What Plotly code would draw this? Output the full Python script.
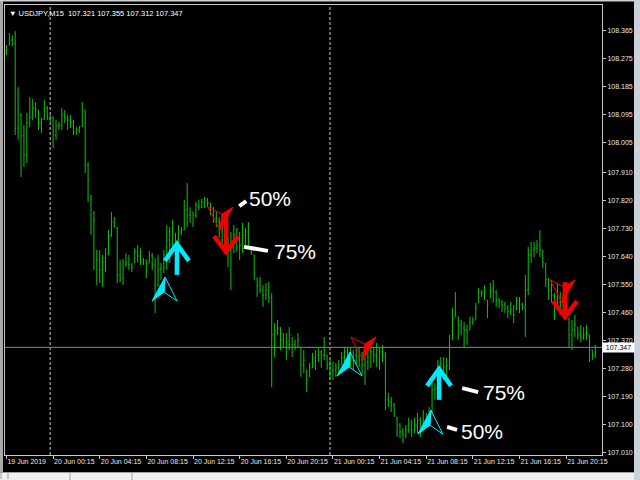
import pandas as pd
import plotly.graph_objects as go

# ---------------- data ----------------
symbol_text = "USDJPY,M15"
first_bar = "2019-06-19 20:15"

opens = [
    108.297, 108.319, 108.335, 108.323, 108.052, 108.094, 108.027, 107.966, 108.069, 108.088,
    108.117, 108.110, 108.069, 108.081, 108.117, 108.085, 108.088, 108.030, 108.059, 108.062,
    108.094, 108.085, 108.078, 108.072, 108.040, 108.046, 108.056, 108.110, 107.933, 107.831,
    107.779, 107.654, 107.628, 107.596, 107.621, 107.647, 107.708, 107.750, 107.731, 107.580,
    107.570, 107.621, 107.615, 107.612, 107.618, 107.654, 107.641, 107.621, 107.628, 107.618,
    107.641, 107.612, 107.547, 107.596, 107.602, 107.644, 107.692, 107.676, 107.708, 107.692,
    107.718, 107.724, 107.789, 107.772, 107.782, 107.772, 107.805, 107.798, 107.814, 107.821,
    107.811, 107.795, 107.763, 107.750, 107.724, 107.692, 107.676, 107.660, 107.676, 107.708,
    107.692, 107.676, 107.708, 107.718, 107.670, 107.644, 107.570, 107.547, 107.531, 107.515,
    107.531, 107.506, 107.387, 107.403, 107.409, 107.371, 107.364, 107.355, 107.387, 107.355,
    107.348, 107.348, 107.290, 107.274, 107.252, 107.281, 107.313, 107.322, 107.332, 107.322,
    107.322, 107.290, 107.268, 107.274, 107.281, 107.290, 107.313, 107.332, 107.326, 107.306,
    107.322, 107.319, 107.306, 107.290, 107.300, 107.338, 107.332, 107.322, 107.338, 107.332,
    107.322, 107.178, 107.171, 107.162, 107.123, 107.097, 107.075, 107.065, 107.081, 107.097,
    107.081, 107.097, 107.113, 107.097, 107.113, 107.120, 107.136, 107.210, 107.216, 107.274,
    107.290, 107.284, 107.290, 107.371, 107.445, 107.445, 107.419, 107.409, 107.403, 107.403,
    107.428, 107.435, 107.490, 107.525, 107.522, 107.499, 107.506, 107.531, 107.525, 107.499,
    107.493, 107.483, 107.473, 107.461, 107.467, 107.467, 107.499, 107.483, 107.477, 107.531,
    107.644, 107.660, 107.666, 107.676, 107.660, 107.618, 107.564, 107.531, 107.515, 107.499,
    107.493, 107.483, 107.490, 107.441, 107.387, 107.403, 107.412, 107.387, 107.377, 107.387,
    107.387, 107.338, 107.321,
]
highs = [
    108.319, 108.358, 108.351, 108.364, 108.184, 108.101, 108.062, 108.101, 108.152, 108.146,
    108.136, 108.110, 108.085, 108.142, 108.123, 108.094, 108.088, 108.078, 108.072, 108.117,
    108.110, 108.094, 108.094, 108.078, 108.056, 108.059, 108.136, 108.110, 107.943, 107.837,
    107.785, 107.660, 107.660, 107.644, 107.666, 107.724, 107.782, 107.766, 107.734, 107.628,
    107.631, 107.650, 107.644, 107.618, 107.666, 107.676, 107.666, 107.634, 107.628, 107.657,
    107.650, 107.634, 107.644, 107.618, 107.660, 107.740, 107.734, 107.757, 107.715, 107.740,
    107.734, 107.821, 107.875, 107.798, 107.782, 107.814, 107.821, 107.824, 107.831, 107.827,
    107.811, 107.798, 107.782, 107.766, 107.750, 107.731, 107.702, 107.718, 107.740, 107.731,
    107.718, 107.747, 107.731, 107.750, 107.670, 107.644, 107.570, 107.573, 107.547, 107.554,
    107.557, 107.522, 107.425, 107.435, 107.412, 107.393, 107.393, 107.412, 107.380, 107.371,
    107.393, 107.348, 107.338, 107.274, 107.297, 107.329, 107.338, 107.345, 107.338, 107.380,
    107.322, 107.306, 107.300, 107.297, 107.306, 107.332, 107.345, 107.348, 107.345, 107.338,
    107.345, 107.345, 107.332, 107.316, 107.355, 107.355, 107.348, 107.361, 107.348, 107.355,
    107.332, 107.200, 107.187, 107.168, 107.123, 107.104, 107.088, 107.097, 107.120, 107.113,
    107.120, 107.136, 107.123, 107.145, 107.136, 107.155, 107.242, 107.232, 107.306, 107.316,
    107.316, 107.313, 107.387, 107.473, 107.525, 107.445, 107.435, 107.428, 107.419, 107.445,
    107.445, 107.490, 107.538, 107.531, 107.547, 107.499, 107.554, 107.564, 107.531, 107.506,
    107.499, 107.493, 107.483, 107.493, 107.483, 107.509, 107.509, 107.490, 107.580, 107.670,
    107.686, 107.686, 107.692, 107.724, 107.660, 107.618, 107.570, 107.564, 107.522, 107.554,
    107.525, 107.506, 107.506, 107.441, 107.435, 107.451, 107.412, 107.419, 107.412, 107.419,
    107.387, 107.338, 107.355,
]
lows = [
    108.287, 108.319, 108.316, 108.030, 108.014, 107.895, 107.927, 107.940, 108.056, 108.078,
    108.085, 108.046, 108.036, 108.078, 108.078, 108.072, 107.988, 108.014, 108.046, 108.046,
    108.069, 108.046, 108.052, 108.030, 108.030, 108.036, 108.056, 107.908, 107.814, 107.708,
    107.596, 107.547, 107.554, 107.541, 107.589, 107.644, 107.702, 107.731, 107.554, 107.557,
    107.547, 107.605, 107.596, 107.589, 107.618, 107.621, 107.612, 107.612, 107.570, 107.618,
    107.596, 107.457, 107.541, 107.564, 107.586, 107.596, 107.618, 107.650, 107.628, 107.670,
    107.708, 107.724, 107.734, 107.747, 107.734, 107.763, 107.789, 107.795, 107.795, 107.798,
    107.772, 107.747, 107.734, 107.699, 107.676, 107.650, 107.605, 107.531, 107.650, 107.654,
    107.628, 107.650, 107.676, 107.670, 107.644, 107.564, 107.509, 107.522, 107.477, 107.499,
    107.490, 107.219, 107.316, 107.387, 107.338, 107.348, 107.306, 107.338, 107.316, 107.338,
    107.348, 107.252, 107.264, 107.203, 107.252, 107.281, 107.274, 107.300, 107.281, 107.306,
    107.274, 107.242, 107.242, 107.252, 107.264, 107.290, 107.297, 107.313, 107.281, 107.274,
    107.290, 107.284, 107.258, 107.226, 107.274, 107.281, 107.297, 107.284, 107.274, 107.300,
    107.145, 107.155, 107.139, 107.123, 107.059, 107.055, 107.039, 107.055, 107.071, 107.059,
    107.071, 107.071, 107.059, 107.081, 107.091, 107.091, 107.136, 107.178, 107.210, 107.252,
    107.242, 107.252, 107.274, 107.371, 107.445, 107.371, 107.387, 107.348, 107.355, 107.403,
    107.419, 107.435, 107.490, 107.509, 107.499, 107.441, 107.506, 107.490, 107.477, 107.473,
    107.461, 107.457, 107.441, 107.451, 107.425, 107.467, 107.457, 107.467, 107.380, 107.515,
    107.618, 107.637, 107.650, 107.637, 107.602, 107.541, 107.499, 107.490, 107.435, 107.467,
    107.461, 107.457, 107.445, 107.345, 107.338, 107.380, 107.371, 107.364, 107.371, 107.371,
    107.300, 107.306, 107.312,
]
closes = [
    108.316, 108.335, 108.323, 108.052, 108.107, 108.027, 107.966, 108.069, 108.088, 108.117,
    108.110, 108.069, 108.081, 108.117, 108.085, 108.088, 108.030, 108.059, 108.062, 108.094,
    108.085, 108.078, 108.072, 108.040, 108.046, 108.056, 108.110, 107.933, 107.885, 107.821,
    107.757, 107.628, 107.596, 107.621, 107.634, 107.708, 107.750, 107.737, 107.580, 107.570,
    107.621, 107.615, 107.612, 107.602, 107.654, 107.641, 107.621, 107.628, 107.618, 107.641,
    107.612, 107.547, 107.596, 107.602, 107.644, 107.692, 107.676, 107.708, 107.692, 107.718,
    107.724, 107.789, 107.772, 107.782, 107.772, 107.805, 107.798, 107.814, 107.821, 107.811,
    107.795, 107.763, 107.750, 107.724, 107.692, 107.676, 107.660, 107.676, 107.708, 107.692,
    107.676, 107.708, 107.718, 107.686, 107.654, 107.580, 107.547, 107.531, 107.515, 107.531,
    107.506, 107.387, 107.403, 107.409, 107.371, 107.364, 107.355, 107.387, 107.355, 107.348,
    107.371, 107.290, 107.306, 107.242, 107.281, 107.313, 107.322, 107.332, 107.322, 107.338,
    107.290, 107.268, 107.274, 107.281, 107.290, 107.313, 107.332, 107.326, 107.306, 107.322,
    107.319, 107.306, 107.290, 107.300, 107.338, 107.332, 107.322, 107.338, 107.332, 107.322,
    107.178, 107.171, 107.162, 107.139, 107.097, 107.075, 107.065, 107.081, 107.097, 107.081,
    107.097, 107.113, 107.097, 107.113, 107.120, 107.129, 107.210, 107.216, 107.274, 107.290,
    107.284, 107.290, 107.355, 107.441, 107.483, 107.419, 107.409, 107.403, 107.396, 107.428,
    107.435, 107.473, 107.525, 107.522, 107.525, 107.483, 107.531, 107.525, 107.499, 107.493,
    107.483, 107.473, 107.461, 107.467, 107.451, 107.499, 107.483, 107.477, 107.531, 107.644,
    107.660, 107.666, 107.676, 107.660, 107.621, 107.564, 107.531, 107.515, 107.499, 107.493,
    107.483, 107.490, 107.461, 107.387, 107.403, 107.419, 107.387, 107.377, 107.387, 107.393,
    107.338, 107.321, 107.347,
]
assert len(opens) == len(highs) == len(lows) == len(closes) == 203

price_tick_labels = ["108.365", "108.275", "108.185", "108.095", "108.005", "107.910",
                     "107.820", "107.730", "107.640", "107.550", "107.460", "107.370",
                     "107.280", "107.190", "107.100", "107.010"]
time_tick_times = ["2019-06-19 20:15", "2019-06-20 00:15", "2019-06-20 04:15",
                   "2019-06-20 08:15", "2019-06-20 12:15", "2019-06-20 16:15",
                   "2019-06-20 20:15", "2019-06-21 00:15", "2019-06-21 04:15",
                   "2019-06-21 08:15", "2019-06-21 12:15", "2019-06-21 16:15",
                   "2019-06-21 20:15"]
time_tick_labels = ["19 Jun 2019", "20 Jun 00:15", "20 Jun 04:15", "20 Jun 08:15",
                    "20 Jun 12:15", "20 Jun 16:15", "20 Jun 20:15", "21 Jun 00:15",
                    "21 Jun 04:15", "21 Jun 08:15", "21 Jun 12:15", "21 Jun 16:15",
                    "21 Jun 20:15"]
day_separators = ["2019-06-20 00:00", "2019-06-21 00:00"]

buy_pointer_times = ["2019-06-20 09:51", "2019-06-21 01:43", "2019-06-21 08:39"]
buy_pointer_prices = [107.573, 107.332, 107.145]
sell_pointer_times = ["2019-06-20 14:34", "2019-06-21 02:49", "2019-06-21 19:54"]
sell_pointer_prices = [107.724, 107.306, 107.490]
buy_arrow_times = ["2019-06-20 10:52", "2019-06-21 09:21"]
buy_arrow_prices = [107.683, 107.281]
sell_arrow_times = ["2019-06-20 15:05", "2019-06-21 20:09"]
sell_arrow_prices = [107.650, 107.441]
level_texts = ["50%", "75%", "75%", "50%"]
level_times = ["2019-06-20 16:54", "2019-06-20 19:01", "2019-06-21 12:58", "2019-06-21 11:04"]
level_prices = [107.827, 107.654, 107.203, 107.075]

# ---------------- layout constants ----------------
W, H = 640, 480
ML, MR, MT, MB = 5, 38, 5, 25
PW, PH = W - ML - MR, H - MT - MB
BAR = pd.Timedelta(minutes=15)
times = pd.date_range(first_bar, periods=len(closes), freq="15min")
x_lo = times[0] - 0.5 * BAR
x_hi = times[0] + 204.3 * BAR
y_lo, y_hi = 107.0007, 108.448
px_per_min = PW / ((x_hi - x_lo).total_seconds() / 60.0)
price_per_px = (y_hi - y_lo) / PH

GREEN = "#10c010"
CYAN = "#00eaff"
RED = "#f00000"
FONT = "Liberation Sans"


def off(t, p, dx, dy):
    return (pd.Timestamp(t) + pd.Timedelta(minutes=dx / px_per_min), p - dy * price_per_px)


def poly(t, p, pts):
    xs, ys = [], []
    for dx, dy in pts:
        a, b = off(t, p, dx, dy)
        xs.append(a)
        ys.append(b)
    return xs, ys


fig = go.Figure()
fig.add_trace(go.Ohlc(
    x=times, open=opens, high=highs, low=lows, close=closes,
    increasing=dict(line=dict(color=GREEN, width=1)),
    decreasing=dict(line=dict(color=GREEN, width=1)),
    tickwidth=0.3, hoverinfo="skip"))

# pointer arrows (half filled, half outlined)
for t, p in zip(buy_pointer_times, buy_pointer_prices):
    xs, ys = poly(t, p, [(0, 0), (-13, 24), (-1, 15), (0, 0)])
    fig.add_trace(go.Scatter(x=xs, y=ys, mode="lines", fill="toself", fillcolor=CYAN,
                             line=dict(color=CYAN, width=1), hoverinfo="skip"))
    xs, ys = poly(t, p, [(0, 0), (12, 24), (-1, 15), (0, 0)])
    fig.add_trace(go.Scatter(x=xs, y=ys, mode="lines", line=dict(color=CYAN, width=1),
                             hoverinfo="skip"))
for t, p in zip(sell_pointer_times, sell_pointer_prices):
    xs, ys = poly(t, p, [(0, 0), (13, -23), (2, -16), (0, 0)])
    fig.add_trace(go.Scatter(x=xs, y=ys, mode="lines", fill="toself", fillcolor=RED,
                             line=dict(color=RED, width=1), hoverinfo="skip"))
    xs, ys = poly(t, p, [(0, 0), (-12, -23), (2, -16), (0, 0)])
    fig.add_trace(go.Scatter(x=xs, y=ys, mode="lines", line=dict(color=RED, width=1),
                             hoverinfo="skip"))

# thick arrows
for t, p in zip(buy_arrow_times, buy_arrow_prices):
    xs, ys = poly(t, p, [(-12, 18), (0, 1), (12, 18)])
    xs2, ys2 = poly(t, p, [(0, 3), (0, 32)])
    fig.add_trace(go.Scatter(x=xs + [None] + xs2, y=ys + [None] + ys2, mode="lines",
                             line=dict(color=CYAN, width=4.5), hoverinfo="skip"))
for t, p in zip(sell_arrow_times, sell_arrow_prices):
    xs, ys = poly(t, p, [(-12, -17), (0, -1), (12, -17)])
    xs2, ys2 = poly(t, p, [(0, -3), (0, -36)])
    fig.add_trace(go.Scatter(x=xs + [None] + xs2, y=ys + [None] + ys2, mode="lines",
                             line=dict(color=RED, width=4.5), hoverinfo="skip"))

# level labels with white dashes
dash_offsets = [[(-8, 8), (-1, 3)], [(-28, -5), (-4, -1)],
                [(-19, -4), (-3, 0)], [(-12, -5), (-2, -2)]]
annotations = []
for txt, t, p, d in zip(level_texts, level_times, level_prices, dash_offsets):
    xs, ys = poly(t, p, d)
    fig.add_trace(go.Scatter(x=xs, y=ys, mode="lines", line=dict(color="white", width=4),
                             hoverinfo="skip"))
    annotations.append(dict(x=pd.Timestamp(t), y=p, xref="x", yref="y", text=txt,
                            showarrow=False, xanchor="left", yanchor="middle",
                            font=dict(family=FONT, size=21, color="white")))


def xp(px):
    return (px - ML) / PW


def yp(py):
    return (H - MB - py) / PH


annotations.append(dict(x=xp(7), y=yp(13), xref="paper", yref="paper",
                        text="\u25bc " + symbol_text + "\u00a0\u00a0"
                        + " ".join(f"{v:.3f}" for v in (opens[-1], highs[-1], lows[-1], closes[-1])),
                        showarrow=False, xanchor="left", yanchor="middle",
                        font=dict(family=FONT, size=7.5, color="white")))
annotations.append(dict(x=1, y=closes[-1], xref="paper", yref="y", text=f"{closes[-1]:.3f}",
                        showarrow=False, xanchor="left", yanchor="middle", bgcolor="white",
                        width=31, height=9, borderpad=0,
                        font=dict(family=FONT, size=7, color="black")))

shapes = []
for d in day_separators:
    shapes.append(dict(type="line", xref="x", yref="paper", x0=d, x1=d, y0=0, y1=1,
                       line=dict(color="#c8c8c8", width=1, dash="3px,2px"), layer="below"))
shapes.append(dict(type="line", xref="paper", yref="y", x0=0, x1=1,
                   y0=closes[-1], y1=closes[-1], line=dict(color="#7d8a98", width=1),
                   layer="below"))
# window chrome
chrome = [
    (634, 0, 640, 480, "#c9d1da"),
    (0, 472, 634, 480, "#f0f0f0"),
    (0, 0, 3, 472, "#a8a8a8"),
    (0, 0, 640, 1.5, "#d0d0d0"),
]
for x0, y0, x1, y1, c in chrome:
    shapes.append(dict(type="rect", xref="paper", yref="paper", x0=xp(x0), x1=xp(x1),
                       y0=yp(y1), y1=yp(y0), fillcolor=c, line=dict(width=0), layer="above"))
for x0, y0, x1, y1 in [(0, 472.5, 634, 472.5), (70, 473, 70, 480), (132, 473, 132, 480),
                       (1, 473, 1, 479), (8, 473, 8, 479)]:
    shapes.append(dict(type="line", xref="paper", yref="paper", x0=xp(x0), x1=xp(x1),
                       y0=yp(y0), y1=yp(y1), line=dict(color="#a0a0a0", width=1), layer="above"))

fig.update_layout(
    width=W, height=H, margin=dict(l=ML, r=MR, t=MT, b=MB),
    paper_bgcolor="black", plot_bgcolor="black", showlegend=False, hovermode=False,
    font=dict(family=FONT, color="#e8e8e8"),
    annotations=annotations, shapes=shapes,
    xaxis=dict(type="date", range=[x_lo, x_hi], showgrid=False, zeroline=False,
               showline=True, mirror=True, linecolor="#c8c8c8", linewidth=1,
               ticks="outside", ticklen=3, tickcolor="#c8c8c8",
               tickvals=[pd.Timestamp(t) for t in time_tick_times], ticktext=time_tick_labels,
               tickangle=0, ticklabelposition="outside right",
               tickfont=dict(family=FONT, size=7, color="#e8e8e8"),
               rangeslider=dict(visible=False), fixedrange=True),
    yaxis=dict(side="right", range=[y_lo, y_hi], showgrid=False, zeroline=False,
               showline=True, mirror=True, linecolor="#c8c8c8", linewidth=1,
               ticks="outside", ticklen=3, tickcolor="#c8c8c8",
               tickvals=[float(s) for s in price_tick_labels], ticktext=price_tick_labels,
               tickfont=dict(family=FONT, size=7, color="#e8e8e8"), fixedrange=True),
)

fig.write_html("out.html", config={"displayModeBar": False},
               post_script="document.body.style.margin='0';document.body.style.background='black';")
